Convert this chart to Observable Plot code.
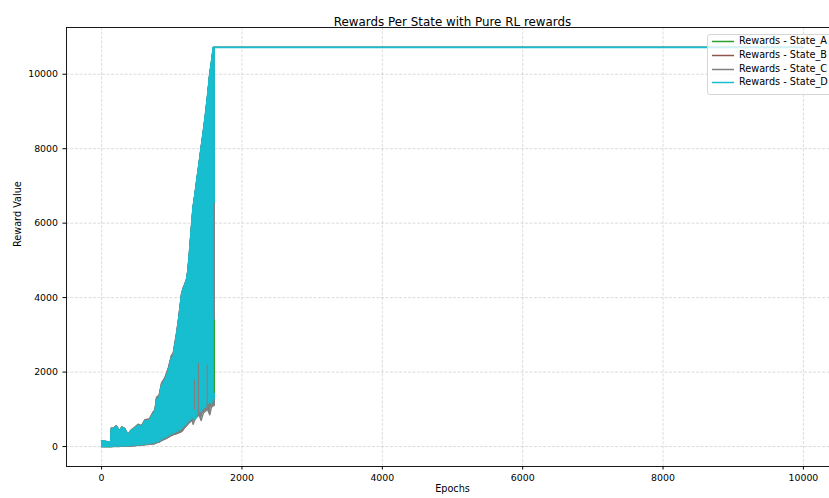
<!DOCTYPE html>
<html>
<head>
<meta charset="utf-8">
<script src="https://cdn.jsdelivr.net/npm/d3@7"></script>
<script src="https://cdn.jsdelivr.net/npm/@observablehq/plot@0.6"></script>
<style>
  html, body { margin: 0; padding: 0; background: #fff; overflow: hidden; width: 829px; height: 498px; }
  #wrap { position: relative; width: 829px; height: 498px; overflow: hidden; font-family: "DejaVu Sans", sans-serif; }
  #chart { position: absolute; left: 0; top: 0; width: 850px; height: 498px; }
  #chart svg { max-width: none !important; display: block; }
  #legend { position: absolute; left: 707px; top: 34px; width: 140px; height: 61px; background: rgba(255,255,255,0.8);
            border: 1px solid #d6d6d6; border-radius: 3px; box-sizing: border-box; font-size: 9.7px; color: #000; }
  .row { position: absolute; left: 0; height: 12px; white-space: nowrap; }
  .row svg { position: absolute; left: 3px; top: 0; }
  .row span { position: absolute; left: 31px; top: 0; line-height: 12px; }
</style>
</head>
<body>
<div id="wrap"><div id="chart"></div><div id="legend"></div></div>
<script>
// ---- data ----
const seriesNames = ["Rewards - State_A", "Rewards - State_B", "Rewards - State_C", "Rewards - State_D"];
const seriesColors = ["#2ca02c", "#8c564b", "#7f7f7f", "#17becf"];

// epochs at which the oscillating band's envelope was read
const epochs = [0, 100, 130, 140, 170, 210, 256, 290, 330, 375, 420, 470, 522, 570, 617, 680, 736, 760, 783, 820, 854, 902, 950, 996, 1020, 1068, 1100, 1139, 1160, 1180, 1210, 1230, 1252, 1290, 1305, 1333, 1361, 1390, 1418, 1450, 1480, 1510, 1542, 1565, 1593, 1605];

const upperA = [140, 110, 100, 470, 460, 530, 400, 500, 460, 300, 410, 470, 550, 520, 670, 690, 860, 900, 1230, 1300, 1610, 1760, 2000, 2350, 2400, 2940, 3400, 4040, 4190, 4300, 4450, 4690, 5170, 6090, 6420, 6790, 7190, 7590, 8000, 8440, 8890, 9390, 9990, 10290, 10720, 10720];
const lowerA = [0, 0, 0, 0, 5, 5, 5, 15, 15, 15, 20, 30, 40, 50, 60, 70, 80, 90, 110, 130, 170, 210, 260, 310, 330, 360, 390, 430, 480, 520, 572, 620, 660, 720, 760, 740, 820, 900, 900, 980, 1000, 1080, 1120, 1140, 1180, 1400];

const upperB = [150, 120, 110, 490, 480, 550, 420, 520, 480, 320, 430, 500, 580, 540, 700, 720, 900, 950, 1290, 1350, 1660, 1810, 2060, 2420, 2460, 3000, 3440, 4080, 4230, 4320, 4470, 4710, 5190, 6110, 6430, 6800, 7200, 7600, 8010, 8450, 8900, 9400, 10000, 10300, 10720, 10720];
const lowerB = [0, 0, 0, 0, 5, 5, 5, 10, 10, 10, 20, 25, 35, 45, 55, 65, 75, 85, 105, 125, 165, 205, 255, 300, 320, 350, 380, 410, 460, 510, 580, 620, 660, 720, 740, 760, 820, 880, 900, 960, 990, 1040, 1100, 1100, 1150, 1150];

const upperC = [160, 130, 120, 500, 490, 560, 430, 530, 490, 330, 440, 510, 600, 560, 720, 740, 930, 980, 1320, 1380, 1700, 1850, 2100, 2450, 2500, 3050, 3480, 4100, 4250, 4340, 4490, 4730, 5200, 6120, 6440, 6810, 7210, 7610, 8020, 8460, 8910, 9410, 10010, 10310, 10720, 10720];
const lowerC = [0, 0, 0, 0, 0, 0, 0, 10, 10, 10, 15, 20, 30, 40, 50, 60, 70, 80, 100, 120, 160, 200, 250, 300, 320, 350, 370, 400, 438, 500, 560, 600, 650, 700, 600, 750, 800, 850, 700, 900, 950, 1000, 850, 1060, 1100, 1100];

const upperD = [150, 120, 100, 480, 470, 540, 400, 510, 470, 300, 420, 480, 560, 520, 680, 690, 870, 900, 1240, 1300, 1620, 1770, 2000, 2360, 2400, 2950, 3400, 4050, 4200, 4300, 4460, 4700, 5180, 6100, 6430, 6800, 7200, 7600, 8000, 8450, 8900, 9400, 10000, 10300, 10720, 10720];
const lowerD = [0, 0, 0, 0, 10, 10, 10, 20, 20, 20, 30, 40, 50, 60, 70, 90, 100, 110, 130, 150, 200, 240, 290, 340, 360, 400, 430, 480, 530, 560, 620, 660, 700, 760, 800, 720, 880, 950, 940, 1050, 1050, 1150, 1200, 1160, 1250, 1300];

// single oscillation strokes visible in front of the band (series C and A)
const spikeSeries = [2, 2, 2, 2, 0];
const spikeEpochs = [1323, 1380, 1504, 1608, 1609];
const spikeLow = [976, 886, 1063, 3400, 1420];
const spikeHigh = [1780, 2230, 2183, 6530, 3400];

// flat plateau after convergence
const plateauEpochs = [1605, 9999];
const plateauValues = [10720, 10720, 10720, 10720];

const xTicks = [0, 2000, 4000, 6000, 8000, 10000];
const yTicks = [0, 2000, 4000, 6000, 8000, 10000];
const titleText = "Rewards Per State with Pure RL rewards";
const xLabel = "Epochs";
const yLabel = "Reward Value";

// ---- build tables ----
const uppers = [upperA, upperB, upperC, upperD];
const lowers = [lowerA, lowerB, lowerC, lowerD];
const bands = seriesNames.map((name, s) => epochs.map((e, i) => ({epoch: e, low: lowers[s][i], high: uppers[s][i]})));
const topLines = seriesNames.map((name, s) => [
  ...epochs.map((e, i) => ({epoch: e, value: uppers[s][i]})),
  ...plateauEpochs.map(e => ({epoch: e, value: plateauValues[s]}))
]);
const lowLines = seriesNames.map((name, s) => [
  ...epochs.map((e, i) => ({epoch: e, value: lowers[s][i]})),
  {epoch: epochs[epochs.length - 1], value: uppers[s][epochs.length - 1]}
]);
const spikes = spikeEpochs.map((e, i) => ({epoch: e, low: spikeLow[i], high: spikeHigh[i], color: seriesColors[spikeSeries[i]]}));

const marks = [
  Plot.gridX(xTicks, {stroke: "#b0b0b0", strokeOpacity: 0.55, strokeWidth: 0.8, strokeDasharray: "3,1.5"}),
  Plot.gridY(yTicks, {stroke: "#b0b0b0", strokeOpacity: 0.55, strokeWidth: 0.8, strokeDasharray: "3,1.5"})
];
seriesNames.forEach((name, s) => {
  const sw = s === 3 ? 1.8 : 1.4;
  marks.push(Plot.areaY(bands[s], {x: "epoch", y1: "low", y2: "high", fill: seriesColors[s], curve: "linear"}));
  marks.push(Plot.line(lowLines[s], {x: "epoch", y: "value", stroke: seriesColors[s], strokeWidth: 1.4}));
  marks.push(Plot.line(topLines[s], {x: "epoch", y: "value", stroke: seriesColors[s], strokeWidth: sw}));
});
marks.push(Plot.ruleX(spikes, {x: "epoch", y1: "low", y2: "high", stroke: d => d.color, strokeWidth: 1.1}));
marks.push(Plot.frame({stroke: "#000", strokeWidth: 0.9}));
marks.push(Plot.text([titleText], {frameAnchor: "top", dy: -10, fontSize: 11.9, fill: "#000"}));
marks.push(Plot.text([xLabel], {frameAnchor: "bottom", dy: 25, fontSize: 9.7, fill: "#000"}));
marks.push(Plot.text([yLabel], {frameAnchor: "left", dx: -49, rotate: -90, fontSize: 9.7, fill: "#000"}));

const chart = Plot.plot({
  width: 850,
  height: 498,
  marginLeft: 66,
  marginRight: 12,
  marginTop: 27,
  marginBottom: 32,
  style: {fontFamily: "DejaVu Sans", fontSize: "9.4px", color: "#000", background: "#fff", maxWidth: "none"},
  x: {domain: [-500, 10500], ticks: xTicks, tickFormat: d3.format("d"), tickSize: 3.5, tickPadding: 4, label: null},
  y: {domain: [-536, 11255], ticks: yTicks, tickFormat: d3.format("d"), tickSize: 3.5, tickPadding: 5, label: null},
  marks
});
chart.style.maxWidth = "none";
document.getElementById("chart").appendChild(chart);

// legend
const legend = document.getElementById("legend");
const rowTops = [0, 14, 28, 41];
seriesNames.forEach((name, s) => {
  const row = document.createElement("div");
  row.className = "row";
  row.style.top = rowTops[s] + "px";
  row.innerHTML = `<svg width="24" height="12"><line x1="1" x2="23" y1="6.5" y2="6.5" stroke="${seriesColors[s]}" stroke-width="1.5"/></svg><span></span>`;
  row.querySelector("span").textContent = name;
  legend.appendChild(row);
});
</script>
</body>
</html>
